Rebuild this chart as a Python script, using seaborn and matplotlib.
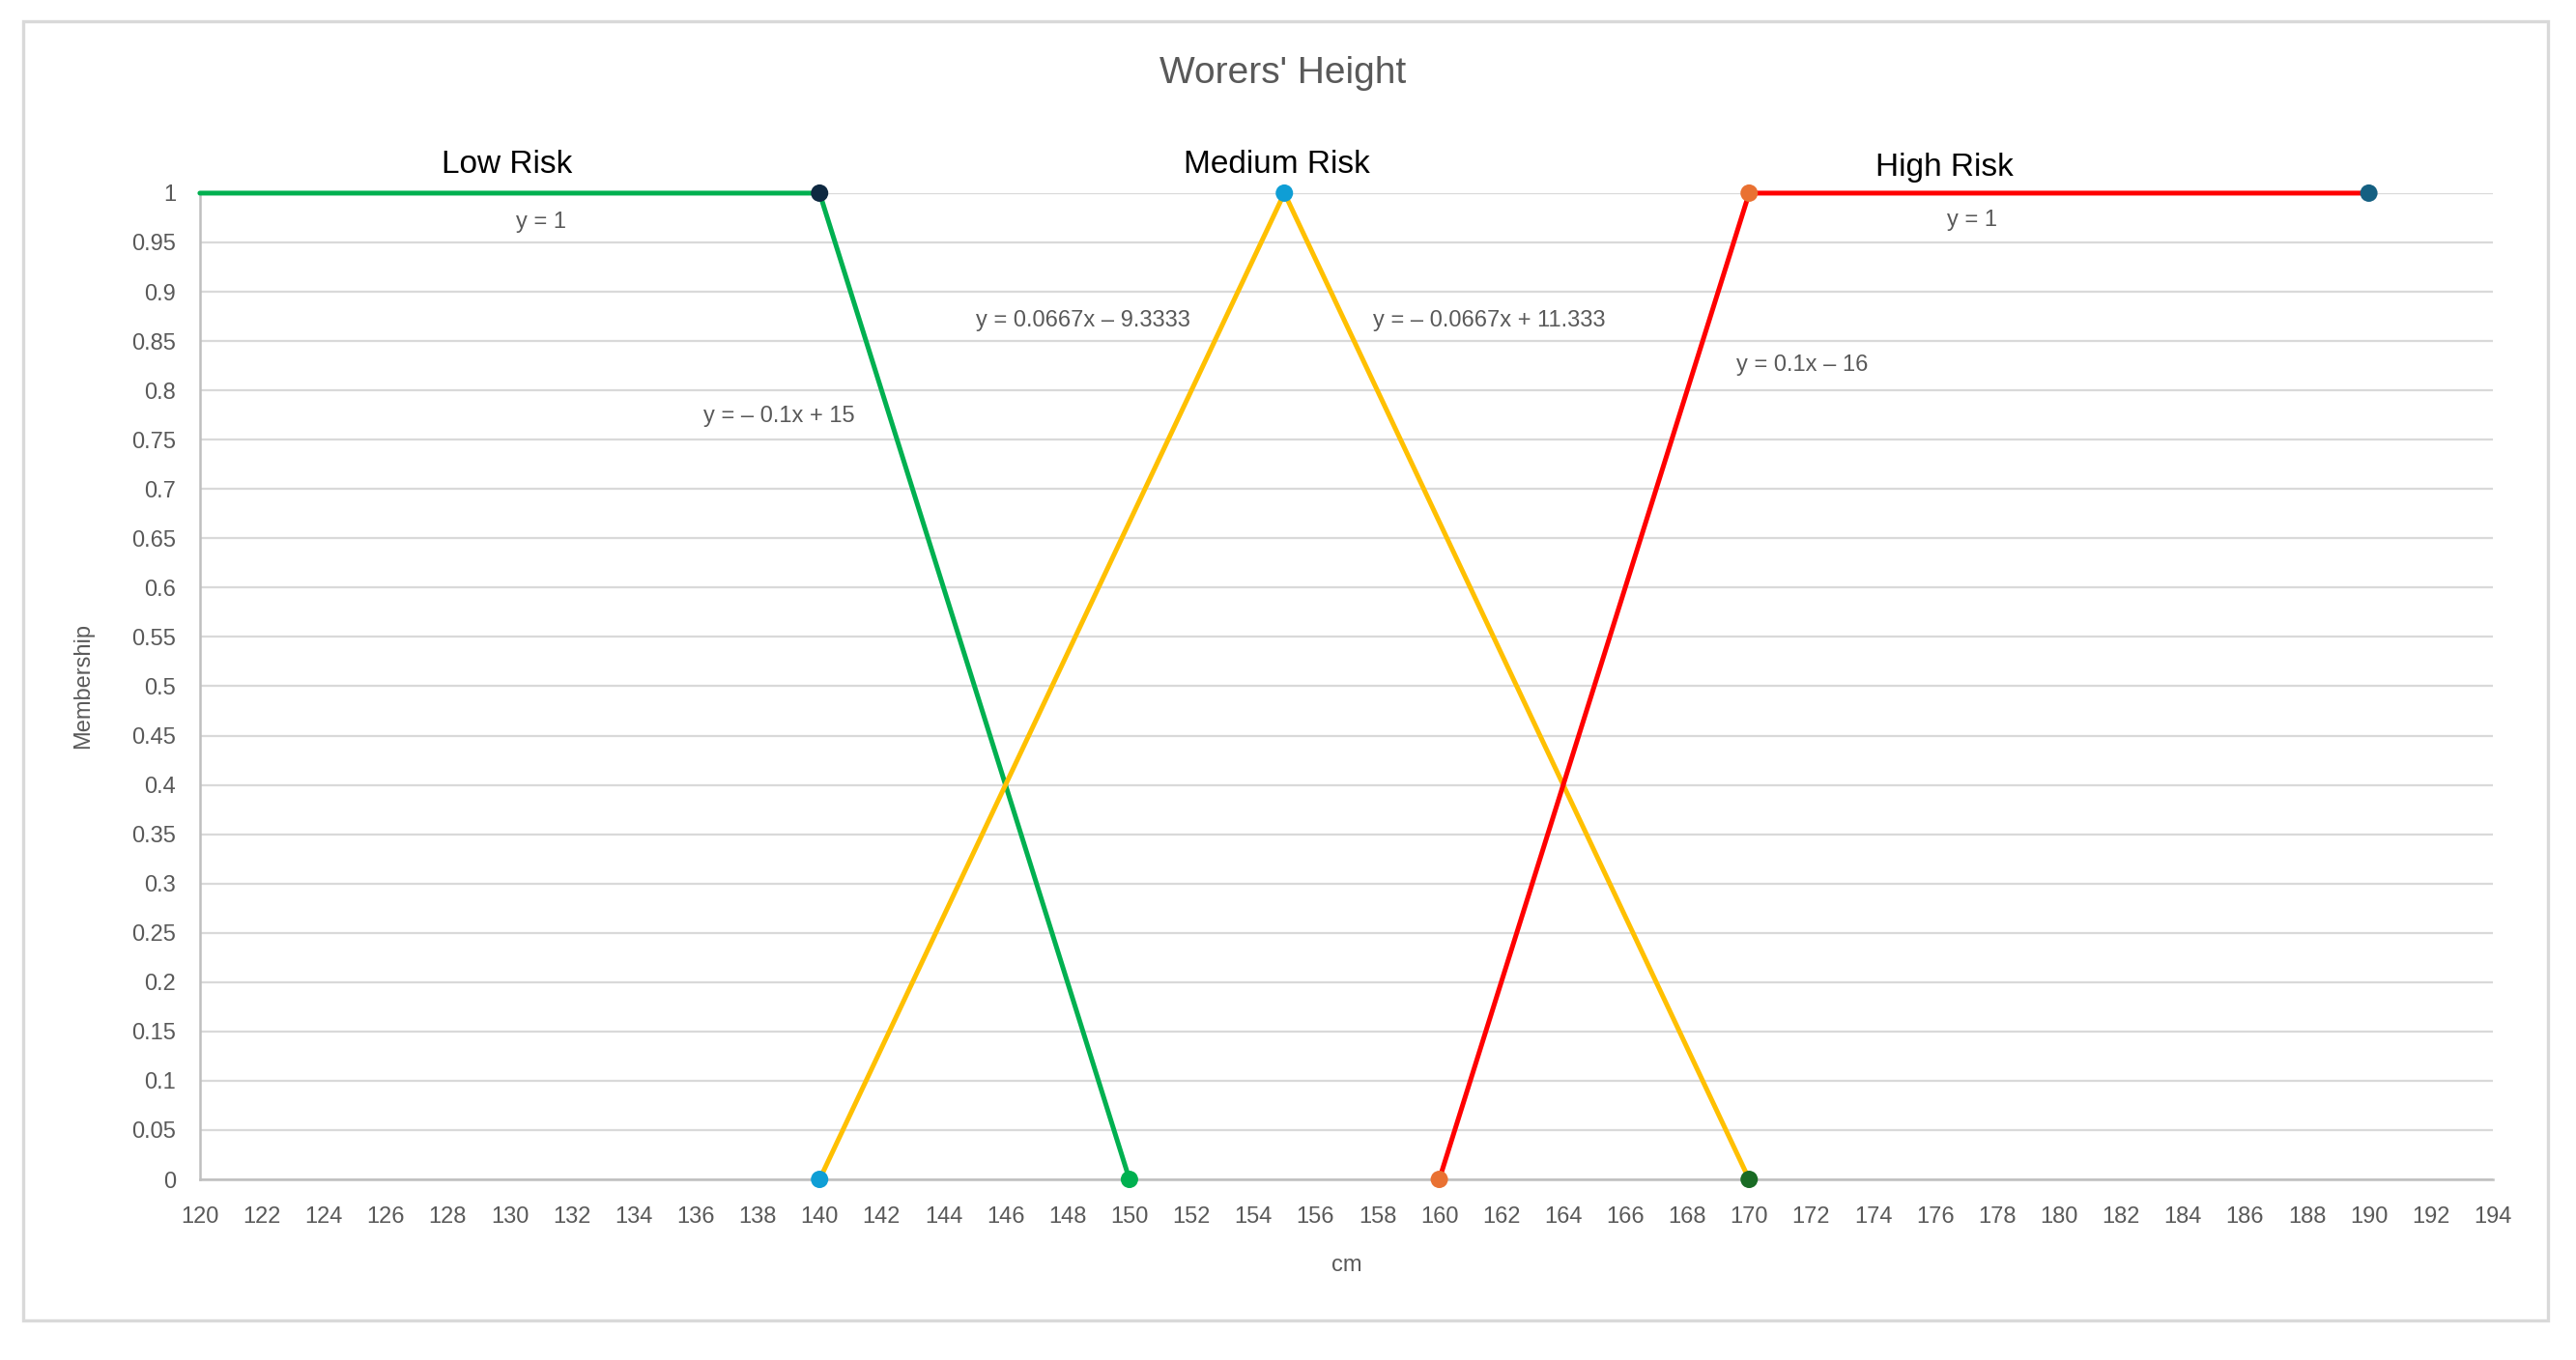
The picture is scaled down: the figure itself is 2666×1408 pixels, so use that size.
import numpy as np
import pandas as pd
import matplotlib
matplotlib.use('Agg')
import matplotlib.pyplot as plt
import seaborn as sns
from matplotlib.patches import Rectangle

# membership function breakpoints (cm, membership)
low_x = [120, 140, 150]
low_y = [1, 1, 0]
med_x = [140, 155, 170]
med_y = [0, 1, 0]
high_x = [160, 170, 190]
high_y = [0, 1, 1]

# marker points shown in the chart (Excel default theme colours)
marker_x = [140, 150, 140, 155, 170, 160, 170, 190]
marker_y = [1, 0, 0, 1, 0, 0, 1, 1]
marker_c = ['#0E2841', '#00B050', '#0F9ED5', '#0F9ED5', '#196B24', '#E97132', '#E97132', '#156082']

risk_labels = ['Low Risk', 'Medium Risk', 'High Risk']
risk_pos = [(129.9, 1.029), (154.75, 1.029), (176.3, 1.026)]

eq_labels = ['y = 1', 'y = 1', 'y = 0.0667x \u2013 9.3333', 'y = \u2013 0.0667x + 11.333',
             'y = \u2013 0.1x + 15', 'y = 0.1x \u2013 16']
eq_pos = [(131.0, 0.971), (177.2, 0.9725), (148.5, 0.871), (161.6, 0.871),
          (138.7, 0.774), (171.7, 0.826)]

x_ticks = list(range(120, 195, 2))
y_ticks = [round(v * 0.05, 2) for v in range(21)]

sns.set_theme(style='white')
plt.rcParams['font.family'] = ['Liberation Sans Narrow', 'Liberation Sans', 'DejaVu Sans']

fig = plt.figure(figsize=(13.33, 7.04), dpi=200)
ax = fig.add_axes([0.0776, 0.1328, 0.8901, 0.7252])

# outer chart border
fig.patches.append(Rectangle((24 / 2666, 1 - 1367 / 1408), (2637 - 24) / 2666, (1367 - 22) / 1408,
                             transform=fig.transFigure, fill=False, edgecolor='#D9D9D9', lw=1.2))

for xs, ys, col in [(low_x, low_y, '#00B050'), (med_x, med_y, '#FFC000'), (high_x, high_y, '#FF0000')]:
    df = pd.DataFrame({'x': xs, 'y': ys})
    sns.lineplot(data=df, x='x', y='y', sort=False, color=col, lw=1.8, ax=ax, clip_on=False, zorder=3)

mk = pd.DataFrame({'x': marker_x, 'y': marker_y, 'c': marker_c})
sns.scatterplot(data=mk, x='x', y='y', hue='c', palette={c: c for c in marker_c}, s=42,
                edgecolor=None, linewidth=0, legend=False, ax=ax, clip_on=False, zorder=4)

for lab, (px, py) in zip(risk_labels, risk_pos):
    ax.text(px, py, lab, ha='center', va='center', fontsize=12, color='black')
for lab, (px, py) in zip(eq_labels, eq_pos):
    ax.text(px, py, lab, ha='center', va='center', fontsize=8.5, color='#595959')

ax.set_xlim(120, 194)
ax.set_ylim(0, 1)
ax.set_xticks(x_ticks)
ax.set_yticks(y_ticks)
ax.set_xticklabels([str(v) for v in x_ticks])
ax.set_yticklabels([f'{v:g}' for v in y_ticks])
ax.tick_params(axis='y', length=0, labelsize=8.5, labelcolor='#595959', pad=9)
ax.tick_params(axis='x', length=0, labelsize=8.5, labelcolor='#595959', pad=10)
ax.yaxis.grid(True, color='#D9D9D9', lw=0.8)
ax.xaxis.grid(False)
for s in ['top', 'right']:
    ax.spines[s].set_visible(False)
for s in ['left', 'bottom']:
    ax.spines[s].set_color('#BFBFBF')
    ax.spines[s].set_linewidth(0.9)

ax.set_xlabel('cm', fontsize=8.5, color='#595959', labelpad=10)
ax.set_ylabel('Membership', fontsize=8.5, color='#595959', labelpad=14)
fig.text(1328 / 2666, 1 - 76 / 1408, "Worers' Height", ha='center', va='center', fontsize=14, color='#595959')

fig.savefig('out.png', dpi=200)
